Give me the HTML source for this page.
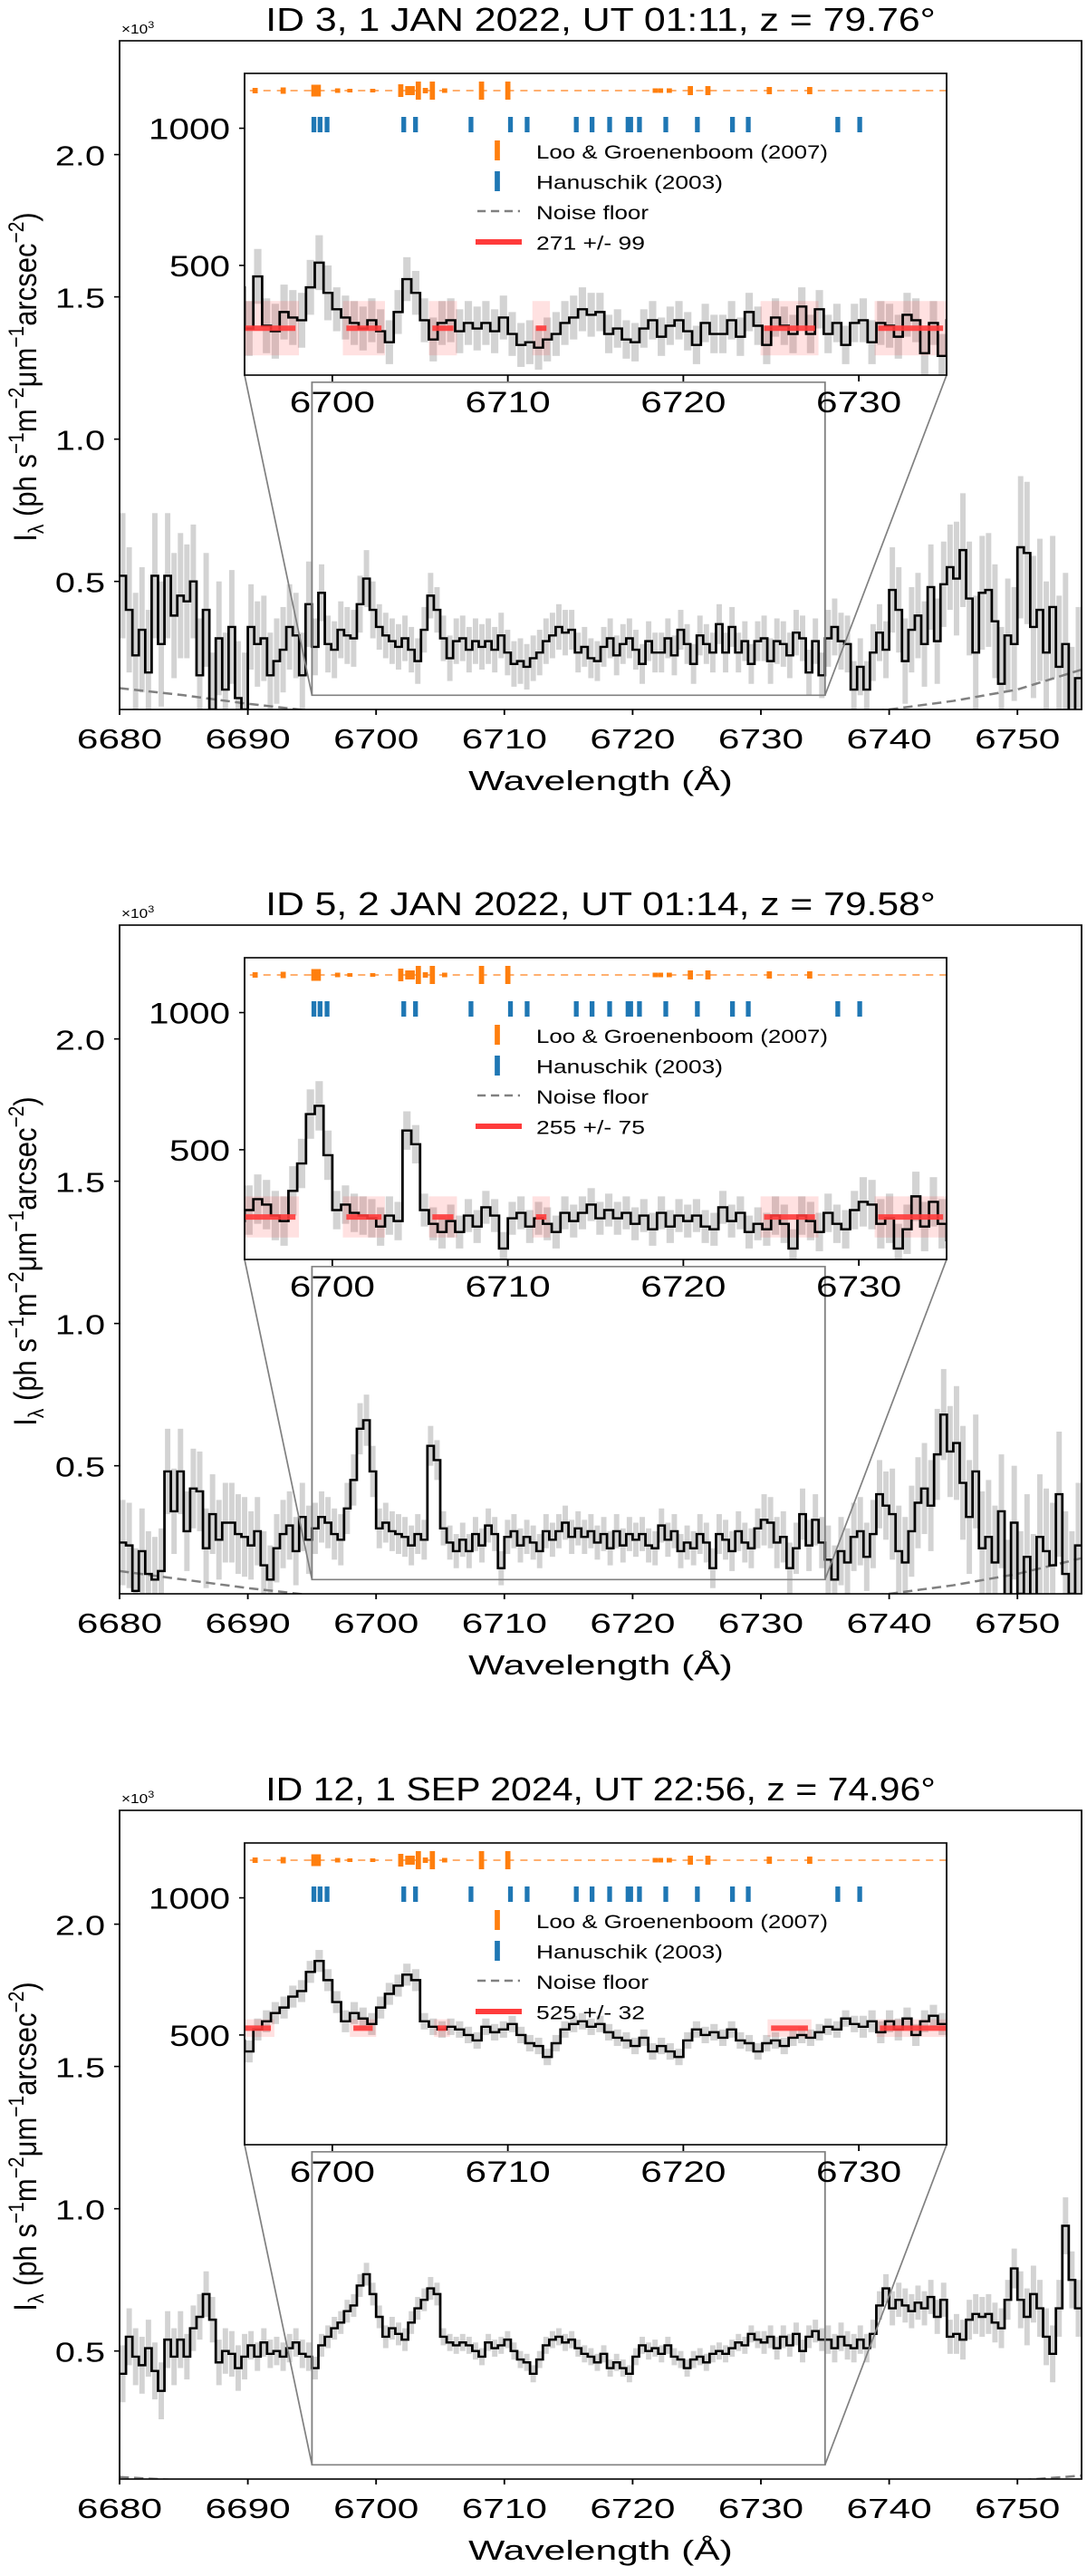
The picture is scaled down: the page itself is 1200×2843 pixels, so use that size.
<!DOCTYPE html>
<html><head><meta charset="utf-8"><title>Spectra</title>
<style>html,body{margin:0;padding:0;background:#fff}svg{display:block}text{font-family:"Liberation Sans",Arial,sans-serif;fill:#000}</style>
</head><body>
<svg id="fig" xmlns="http://www.w3.org/2000/svg" width="1200" height="2843" viewBox="0 0 1045 2843" preserveAspectRatio="none"></svg>
<script>
// ---------- data ----------
const startWl = 6680;
const binWidth = 0.5;
const flux1 = [0.52,0.40,0.24,0.33,0.18,0.52,0.28,0.52,0.38,0.45,
0.43,0.50,0.17,0.40,0.05,0.30,0.12,0.34,0.09,0.05,
0.34,0.28,0.30,0.17,0.22,0.26,0.34,0.31,0.17,0.42,
0.27,0.46,0.28,0.26,0.33,0.31,0.30,0.42,0.51,0.40,
0.34,0.31,0.29,0.27,0.30,0.26,0.22,0.33,0.45,0.40,
0.30,0.23,0.29,0.30,0.26,0.29,0.27,0.29,0.26,0.31,
0.25,0.21,0.22,0.20,0.23,0.25,0.29,0.31,0.34,0.32,
0.33,0.25,0.27,0.23,0.22,0.27,0.30,0.24,0.28,0.30,
0.26,0.21,0.29,0.25,0.25,0.30,0.24,0.33,0.28,0.21,
0.31,0.28,0.25,0.35,0.25,0.34,0.25,0.29,0.21,0.29,
0.30,0.22,0.29,0.28,0.24,0.32,0.30,0.18,0.29,0.17,
0.30,0.34,0.29,0.28,0.12,0.20,0.12,0.25,0.32,0.26,
0.47,0.40,0.22,0.33,0.38,0.28,0.48,0.29,0.49,0.55,
0.51,0.61,0.44,0.25,0.46,0.47,0.36,0.14,0.31,0.28,
0.62,0.60,0.34,0.40,0.25,0.41,0.20,0.28,0.02,0.16];
const flux2 = [0.23,0.22,0.06,0.20,0.12,0.10,0.13,0.48,0.34,0.48,
0.27,0.42,0.41,0.21,0.33,0.24,0.30,0.30,0.26,0.25,
0.22,0.27,0.15,0.10,0.21,0.26,0.29,0.20,0.32,0.24,
0.28,0.32,0.30,0.26,0.24,0.35,0.45,0.63,0.66,0.48,
0.28,0.30,0.27,0.26,0.25,0.22,0.26,0.24,0.57,0.52,
0.28,0.23,0.20,0.24,0.20,0.26,0.22,0.29,0.26,0.14,
0.25,0.27,0.22,0.25,0.23,0.20,0.27,0.24,0.27,0.30,
0.25,0.28,0.25,0.27,0.23,0.26,0.21,0.27,0.22,0.26,
0.24,0.26,0.22,0.21,0.29,0.24,0.27,0.20,0.23,0.21,
0.26,0.23,0.14,0.26,0.24,0.20,0.27,0.23,0.21,0.28,
0.31,0.30,0.23,0.25,0.14,0.21,0.33,0.22,0.31,0.23,
0.17,0.10,0.20,0.16,0.25,0.27,0.18,0.26,0.40,0.36,
0.33,0.20,0.16,0.27,0.37,0.42,0.36,0.54,0.68,0.55,
0.58,0.44,0.32,0.48,0.21,0.25,0.16,0.34,0.04,0.30,
0.05,0.18,0.04,0.25,0.20,0.15,0.40,0.12,0.05,0.22];
const flux3 = [0.42,0.55,0.48,0.45,0.51,0.43,0.36,0.54,0.48,0.54,
0.48,0.58,0.62,0.70,0.61,0.46,0.50,0.49,0.44,0.48,
0.52,0.48,0.53,0.49,0.50,0.48,0.51,0.53,0.49,0.48,
0.44,0.52,0.55,0.58,0.60,0.64,0.66,0.73,0.77,0.70,
0.62,0.55,0.58,0.56,0.54,0.60,0.65,0.68,0.72,0.70,
0.55,0.53,0.52,0.53,0.52,0.50,0.48,0.53,0.51,0.52,
0.54,0.50,0.47,0.46,0.42,0.47,0.52,0.54,0.55,0.53,
0.54,0.51,0.49,0.48,0.46,0.49,0.44,0.46,0.44,0.42,
0.48,0.52,0.50,0.51,0.49,0.52,0.48,0.47,0.44,0.47,
0.48,0.46,0.49,0.50,0.49,0.51,0.53,0.52,0.56,0.54,
0.53,0.55,0.51,0.55,0.52,0.56,0.50,0.55,0.57,0.54,
0.54,0.51,0.55,0.52,0.51,0.54,0.51,0.56,0.66,0.72,
0.65,0.68,0.66,0.64,0.67,0.65,0.69,0.62,0.68,0.55,
0.56,0.54,0.61,0.63,0.62,0.63,0.60,0.58,0.68,0.79,
0.68,0.62,0.70,0.65,0.55,0.49,0.65,0.94,0.75,0.65];
const err1 = [0.22,0.20,0.15,0.10,0.08,0.08,0.08,0.07,0.07,0.07,0.08,0.10,0.15,0.20,0.25];
const err2 = [0.15,0.14,0.12,0.09,0.07,0.06,0.06,0.06,0.06,0.07,0.09,0.12,0.16,0.20,0.22];
const err3 = [0.10,0.08,0.05,0.04,0.04,0.03,0.03,0.03,0.03,0.03,0.04,0.05,0.06,0.07,0.10];
const noise1 = [0.125,0.10,0.07,0.045,0.03,0.02,0.02,0.02,0.02,0.02,0.02,0.03,0.05,0.08,0.12,0.19];
const noise2 = [0.13,0.10,0.07,0.045,0.03,0.02,0.02,0.02,0.02,0.02,0.02,0.03,0.05,0.08,0.12,0.175];
const noise3 = [0.057,0.045,0.035,0.03,0.02,0.02,0.02,0.02,0.02,0.02,0.02,0.02,0.03,0.035,0.045,0.062];
const fitLevel = [271,255,525];
const fitErr = [99,75,32];
const fitWindows12 = [[6695,6697.9],[6700.8,6702.8],[6705.7,6706.9],[6711.6,6712.2],[6724.6,6727.5],[6731.1,6734.8]];
const fitWindows3 = [[6695,6696.5],[6701.2,6702.3],[6706,6706.5],[6725,6727.1],[6731.2,6735]];
const titles = ["ID 3, 1 JAN 2022, UT 01:11, z = 79.76°","ID 5, 2 JAN 2022, UT 01:14, z = 79.58°","ID 12, 1 SEP 2024, UT 22:56, z = 74.96°"];
const xTicks = [6680,6690,6700,6710,6720,6730,6740,6750];
const yTicks = [0.5,1.0,1.5,2.0];
const yTickLabels = ["0.5","1.0","1.5","2.0"];
const insetXTicks = [6700,6710,6720,6730];
const insetYTicks = [500,1000];
const looWl = [6695.6,6697.2,6698.95,6699.2,6700.3,6701.0,6702.3,6703.9,6704.3,6704.55,6704.9,6705.3,6705.7,6706.4,6708.5,6710.0,6718.4,6718.7,6719.2,6720.4,6721.4,6724.9,6727.2];
const looStrength = [6,7,13,13,5,4,4,14,10,10,20,6,20,5,20,20,5,5,5,10,10,8,8];
const hanWl = [6698.95,6699.3,6699.7,6704.07,6704.74,6707.9,6710.15,6711.1,6713.9,6714.8,6715.8,6716.85,6717.0,6717.5,6719.0,6720.8,6722.8,6723.7,6728.8,6730.05];

// ---------- layout ----------
const NS = 'http://www.w3.org/2000/svg';
const SX = 1200/1045;
const X = v => v/SX;
const panelOffsets = [0,976,1953];
const M = {l:132, r:1194, t:45, b:783, x0:6680, x1:6755, y0:0.05, y1:2.4};
const I = {l:270, r:1045, t:81, b:414, x0:6695, x1:6735, y0:100, y1:1200};
const mx = w => M.l + (w-M.x0)/(M.x1-M.x0)*(M.r-M.l);
const my = v => M.b - (v-M.y0)/(M.y1-M.y0)*(M.b-M.t);
const ix = w => I.l + (w-I.x0)/(I.x1-I.x0)*(I.r-I.l);
const iy = u => I.b - (u-I.y0)/(I.y1-I.y0)*(I.b-I.t);
const svg = document.getElementById('fig');
function mk(tag, attrs, parent){ const e=document.createElementNS(NS,tag); for(const k in attrs) e.setAttribute(k,attrs[k]); parent.appendChild(e); return e; }
function txt(s, attrs, parent){ const t=mk('text',attrs,parent); t.textContent=s; return t; }

const fluxes=[flux1,flux2,flux3], errs=[err1,err2,err3], noises=[noise1,noise2,noise3];

panelOffsets.forEach((off,k)=>{
  const flux=fluxes[k], err=errs[k], noise=noises[k];
  const g = mk('g',{transform:`translate(0,${off})`},svg);
  
  
  const defs = mk('defs',{},g);
  const cm = mk('clipPath',{id:'cm'+k},defs);
  mk('rect',{x:X(M.l),y:M.t,width:X(M.r)-X(M.l),height:M.b-M.t},cm);
  const ci = mk('clipPath',{id:'ci'+k},defs);
  mk('rect',{x:X(I.l),y:I.t,width:X(I.r)-X(I.l),height:I.b-I.t},ci);

  const t = txt(titles[k],{x:X(663),y:34,'text-anchor':'middle','font-size':36,textLength:644,lengthAdjust:'spacingAndGlyphs'},g);
  
  
  const ot = mk('text',{x:X(134),y:37,'font-size':15},g);
  ot.innerHTML='×10<tspan dy="-6" font-size="11">3</tspan>';
  
  

  const mg = mk('g',{'clip-path':`url(#cm${k})`},g);
  
  
  flux.forEach((v,i)=>{
    const w0 = startWl+i*binWidth, e = err[Math.floor(i/10)];
    const r = mk('rect',{x:X(mx(w0+0.04)),y:my(v+e),width:X(mx(w0+binWidth-0.04))-X(mx(w0+0.04)),height:my(v-e)-my(v+e),fill:'#d3d3d3'},mg);
    
    
  });
  let nd='';
  noise.forEach((v,i)=>{ nd += (i?'L':'M')+X(mx(6680+5*i))+','+my(v); });
  const np = mk('path',{d:nd,fill:'none',stroke:'#808080','stroke-width':2.5,'stroke-dasharray':'9,5'},mg);
  
  
  let sd='';
  flux.forEach((v,i)=>{ const w0=startWl+i*binWidth; sd += (i?'V'+my(v):'M'+X(mx(w0))+','+my(v))+'H'+X(mx(w0+binWidth)); });
  const sp = mk('path',{d:sd,fill:'none',stroke:'#000','stroke-width':2.4},mg);
  
  

  const rx0=X(mx(I.x0)), rx1=X(mx(I.x1)), ry0=my(I.y1/1000), ry1=my(I.y0/1000);
  const ir = mk('rect',{x:rx0,y:ry0,width:rx1-rx0,height:ry1-ry0,fill:'none',stroke:'#808080','stroke-width':1.6},g);
  
  
  const c1 = mk('line',{x1:X(I.l),y1:I.b,x2:rx0,y2:ry1,stroke:'#808080','stroke-width':1.5},g);
  
  
  const c2 = mk('line',{x1:X(I.r),y1:I.b,x2:rx1,y2:ry1,stroke:'#808080','stroke-width':1.5},g);
  
  

  const mb = mk('rect',{x:X(M.l),y:M.t,width:X(M.r)-X(M.l),height:M.b-M.t,fill:'none',stroke:'#000','stroke-width':1.6},g);
  
  
  xTicks.forEach(w=>{
    const l = mk('line',{x1:X(mx(w)),x2:X(mx(w)),y1:M.b,y2:M.b+6,stroke:'#000','stroke-width':1.6},g);
    
    
    const tl = txt(String(w),{x:X(mx(w)),y:826,'text-anchor':'middle','font-size':31,textLength:82,lengthAdjust:'spacingAndGlyphs'},g);
    
    
  });
  yTicks.forEach((v,j)=>{
    const l = mk('line',{x1:X(M.l-6),x2:X(M.l),y1:my(v),y2:my(v),stroke:'#000','stroke-width':1.6},g);
    
    
    const tl = txt(yTickLabels[j],{x:X(116),y:my(v)+12,'text-anchor':'end','font-size':31,textLength:48,lengthAdjust:'spacingAndGlyphs'},g);
    
    
  });
  const xl = txt('Wavelength (Å)',{x:X(663),y:872,'text-anchor':'middle','font-size':31,textLength:254,lengthAdjust:'spacingAndGlyphs'},g);
  
  
  const yl = mk('text',{transform:`translate(${X(40)},416) rotate(-90)`,'text-anchor':'middle','font-size':31},g);
  yl.innerHTML='I<tspan font-size="21" dy="7">λ</tspan><tspan dy="-7"> (ph s</tspan><tspan font-size="21" dy="-12">−1</tspan><tspan dy="12">m</tspan><tspan font-size="21" dy="-12">−2</tspan><tspan dy="12">μm</tspan><tspan font-size="21" dy="-12">−1</tspan><tspan dy="12">arcsec</tspan><tspan font-size="21" dy="-12">−2</tspan><tspan dy="12">)</tspan>';
  
  

  const ibg = mk('rect',{x:X(I.l),y:I.t,width:X(I.r)-X(I.l),height:I.b-I.t,fill:'#fff'},g);
  
  
  const ig = mk('g',{'clip-path':`url(#ci${k})`},g);
  
  
  flux.forEach((v,i)=>{
    const w0 = startWl+i*binWidth, e = err[Math.floor(i/10)];
    if (w0 < I.x0-1 || w0 > I.x1+1) return;
    const r = mk('rect',{x:X(ix(w0+0.04)),y:iy((v+e)*1000),width:X(ix(w0+binWidth-0.04))-X(ix(w0+0.04)),height:iy((v-e)*1000)-iy((v+e)*1000),fill:'#d3d3d3'},ig);
    
    
  });
  const wins = k<2 ? fitWindows12 : fitWindows3;
  wins.forEach(wn=>{
    const b = mk('rect',{x:X(ix(wn[0]-0.2)),y:iy(fitLevel[k]+fitErr[k]),width:X(ix(wn[1]+0.2))-X(ix(wn[0]-0.2)),height:iy(fitLevel[k]-fitErr[k])-iy(fitLevel[k]+fitErr[k]),fill:'rgba(255,40,40,0.14)'},ig);
    
    
  });
  let isd='';
  flux.forEach((v,i)=>{ const w0=startWl+i*binWidth; const u=Math.max(v*1000,0); isd += (i?'V'+iy(u):'M'+X(ix(w0))+','+iy(u))+'H'+X(ix(w0+binWidth)); });
  const isp = mk('path',{d:isd,fill:'none',stroke:'#000','stroke-width':2.4},ig);
  
  
  wins.forEach(wn=>{
    const s = mk('line',{x1:X(ix(wn[0])),x2:X(ix(wn[1])),y1:iy(fitLevel[k]),y2:iy(fitLevel[k]),stroke:'#ff3b3b','stroke-width':6,'stroke-opacity':0.9},ig);
    
    
  });
  const ol = mk('line',{x1:X(ix(6695.3)),x2:X(I.r),y1:I.t+19,y2:I.t+19,stroke:'#ffb070','stroke-width':2,'stroke-dasharray':'7,6'},ig);
  
  
  looWl.forEach((w,j)=>{
    const h=looStrength[j];
    const m = mk('rect',{x:X(ix(w))-2.5,y:I.t+19-h/2,width:5,height:h,fill:'#ff7f0e'},ig);
    
    
  });
  hanWl.forEach(w=>{
    const m = mk('rect',{x:X(ix(w))-2.3,y:I.t+48,width:4.6,height:17,fill:'#1f77b4'},ig);
    
    
  });
  const lg = mk('g',{},g);
  
  
  const e1 = mk('rect',{x:X(549)-2.5,y:155,width:5,height:22,fill:'#ff7f0e'},lg);
  
  
  const e2 = mk('rect',{x:X(549)-2.5,y:189,width:5,height:22,fill:'#1f77b4'},lg);
  
  
  const e3 = mk('line',{x1:X(527),x2:X(574),y1:233,y2:233,stroke:'#808080','stroke-width':2.5,'stroke-dasharray':'8,5'},lg);
  
  
  const e4 = mk('line',{x1:X(525),x2:X(576),y1:267,y2:267,stroke:'#ff3b3b','stroke-width':6},lg);
  
  
  const legTexts=['Loo & Groenenboom (2007)','Hanuschik (2003)','Noise floor',fitLevel[k]+' +/- '+fitErr[k]];
  const legW=[322,206,124,120];
  legTexts.forEach((s,j)=>{
    const lt = txt(s,{x:X(592),y:175+j*33.5,'font-size':21,textLength:X(legW[j]),lengthAdjust:'spacingAndGlyphs'},lg);
    
    
  });
  const ib = mk('rect',{x:X(I.l),y:I.t,width:X(I.r)-X(I.l),height:I.b-I.t,fill:'none',stroke:'#000','stroke-width':1.6},g);
  
  
  insetXTicks.forEach(w=>{
    const l = mk('line',{x1:X(ix(w)),x2:X(ix(w)),y1:I.b,y2:I.b+7,stroke:'#000','stroke-width':1.6},g);
    
    
    const tl = txt(String(w),{x:X(ix(w)),y:455,'text-anchor':'middle','font-size':32,textLength:82,lengthAdjust:'spacingAndGlyphs'},g);
    
    
  });
  insetYTicks.forEach(u=>{
    const l = mk('line',{x1:X(I.l-6),x2:X(I.l),y1:iy(u),y2:iy(u),stroke:'#000','stroke-width':1.6},g);
    
    
    const s=String(u);
    const tl = txt(s,{x:X(254),y:iy(u)+12,'text-anchor':'end','font-size':32,textLength:X(s.length===4?90:67),lengthAdjust:'spacingAndGlyphs'},g);
    
    
  });
});
</script>
</body></html>
